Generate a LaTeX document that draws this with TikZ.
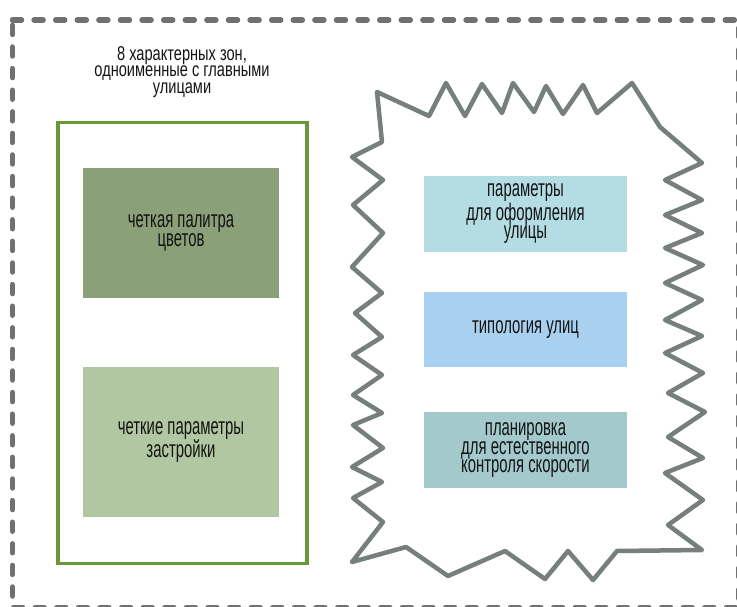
\documentclass[tikz,border=0pt]{standalone}
\usepackage{fontspec}
\setmainfont{Liberation Sans}[FakeStretch=0.62]
\newfontfamily\headfont{Liberation Sans}[FakeStretch=0.73]
\begin{document}
\begin{tikzpicture}[x=1pt,y=-1pt,
  lbl/.style={align=center,text=black!92,font=\fontsize{24}{17}\selectfont},
  framegray/.style={line width=5.5pt,line cap=round,line join=round,dash pattern=on 9pt off 12.6pt},
  burst/.style={draw=zig,line width=4.5pt,line join=round}]
\definecolor{zig}{RGB}{118,126,126}
\definecolor{frameg}{RGB}{112,112,112}
\definecolor{leafg}{RGB}{104,152,56}
\definecolor{darkg}{RGB}{138,160,120}
\definecolor{lightg}{RGB}{177,199,161}
\definecolor{teal1}{RGB}{180,221,227}
\definecolor{blue1}{RGB}{169,208,238}
\definecolor{teal2}{RGB}{163,201,204}
\useasboundingbox (0,0) rectangle (737,607);
\clip (0,0) rectangle (737,607);

% outer dashed frame
\draw[framegray,draw=frameg] (12.5,20) -- (739,20) -- (739,607.5) -- (12.5,607.5) -- cycle;

% heading
\node[align=center,text=black!92,font=\headfont\fontsize{20}{16.5}\selectfont] (head) at (182,72) {8 характерных зон,\\одноименные с главными\\улицами};

% left column: green frame with two tiles
\node[draw=leafg,line width=3.5pt,minimum width=249pt,minimum height=441pt,inner sep=0pt] (zone) at (182.5,343) {};
\node[fill=darkg,minimum width=196pt,minimum height=130pt,lbl,inner sep=0pt] (palette) at (181,233) {четкая палитра\\цветов};
\node[fill=lightg,minimum width=196pt,minimum height=150pt,lbl,inner sep=0pt] (build) at (181,442) {четкие параметры\\застройки};

% right column: zigzag outline
\draw[burst] (377,92) -- (429,116) -- (446,83) -- (465,116) -- (482,84) -- (502,113)
  -- (513,83) -- (534,112) -- (546,86) -- (563,114) -- (583,85) -- (597,113) -- (632,83)
  -- (660,127) -- (702,163) -- (665,180) -- (702,200) -- (665,215) -- (702,233) -- (665,248)
  -- (703,265) -- (665,283) -- (702,300) -- (665,320) -- (702,336) -- (665,353) -- (703,373)
  -- (668,393) -- (705,412) -- (668,437) -- (703,458) -- (665,473) -- (703,500) -- (668,525)
  -- (702,550) -- (617,551) -- (593,580) -- (568,551) -- (545,579) -- (505,551) -- (448,576)
  -- (406,547) -- (352,562) -- (383,522) -- (353,498) -- (382,482) -- (352,467) -- (383,448)
  -- (353,425) -- (382,413) -- (353,395) -- (382,375) -- (353,355) -- (382,337) -- (355,313)
  -- (382,293) -- (352,267) -- (383,233) -- (353,205) -- (383,180) -- (352,157) -- (382,142)
  -- cycle;

\node[fill=teal1,minimum width=203pt,minimum height=76pt,lbl,inner sep=0pt] (design) at (525.5,214) {параметры\\для оформления\\улицы};
\node[fill=blue1,minimum width=203pt,minimum height=75pt,lbl,inner sep=0pt] (types) at (525.5,329.5) {типология улиц};
\node[fill=teal2,minimum width=203pt,minimum height=76pt,lbl,inner sep=0pt] (plan) at (525.5,450) {планировка\\для естественного\\контроля скорости};
\end{tikzpicture}
\end{document}
